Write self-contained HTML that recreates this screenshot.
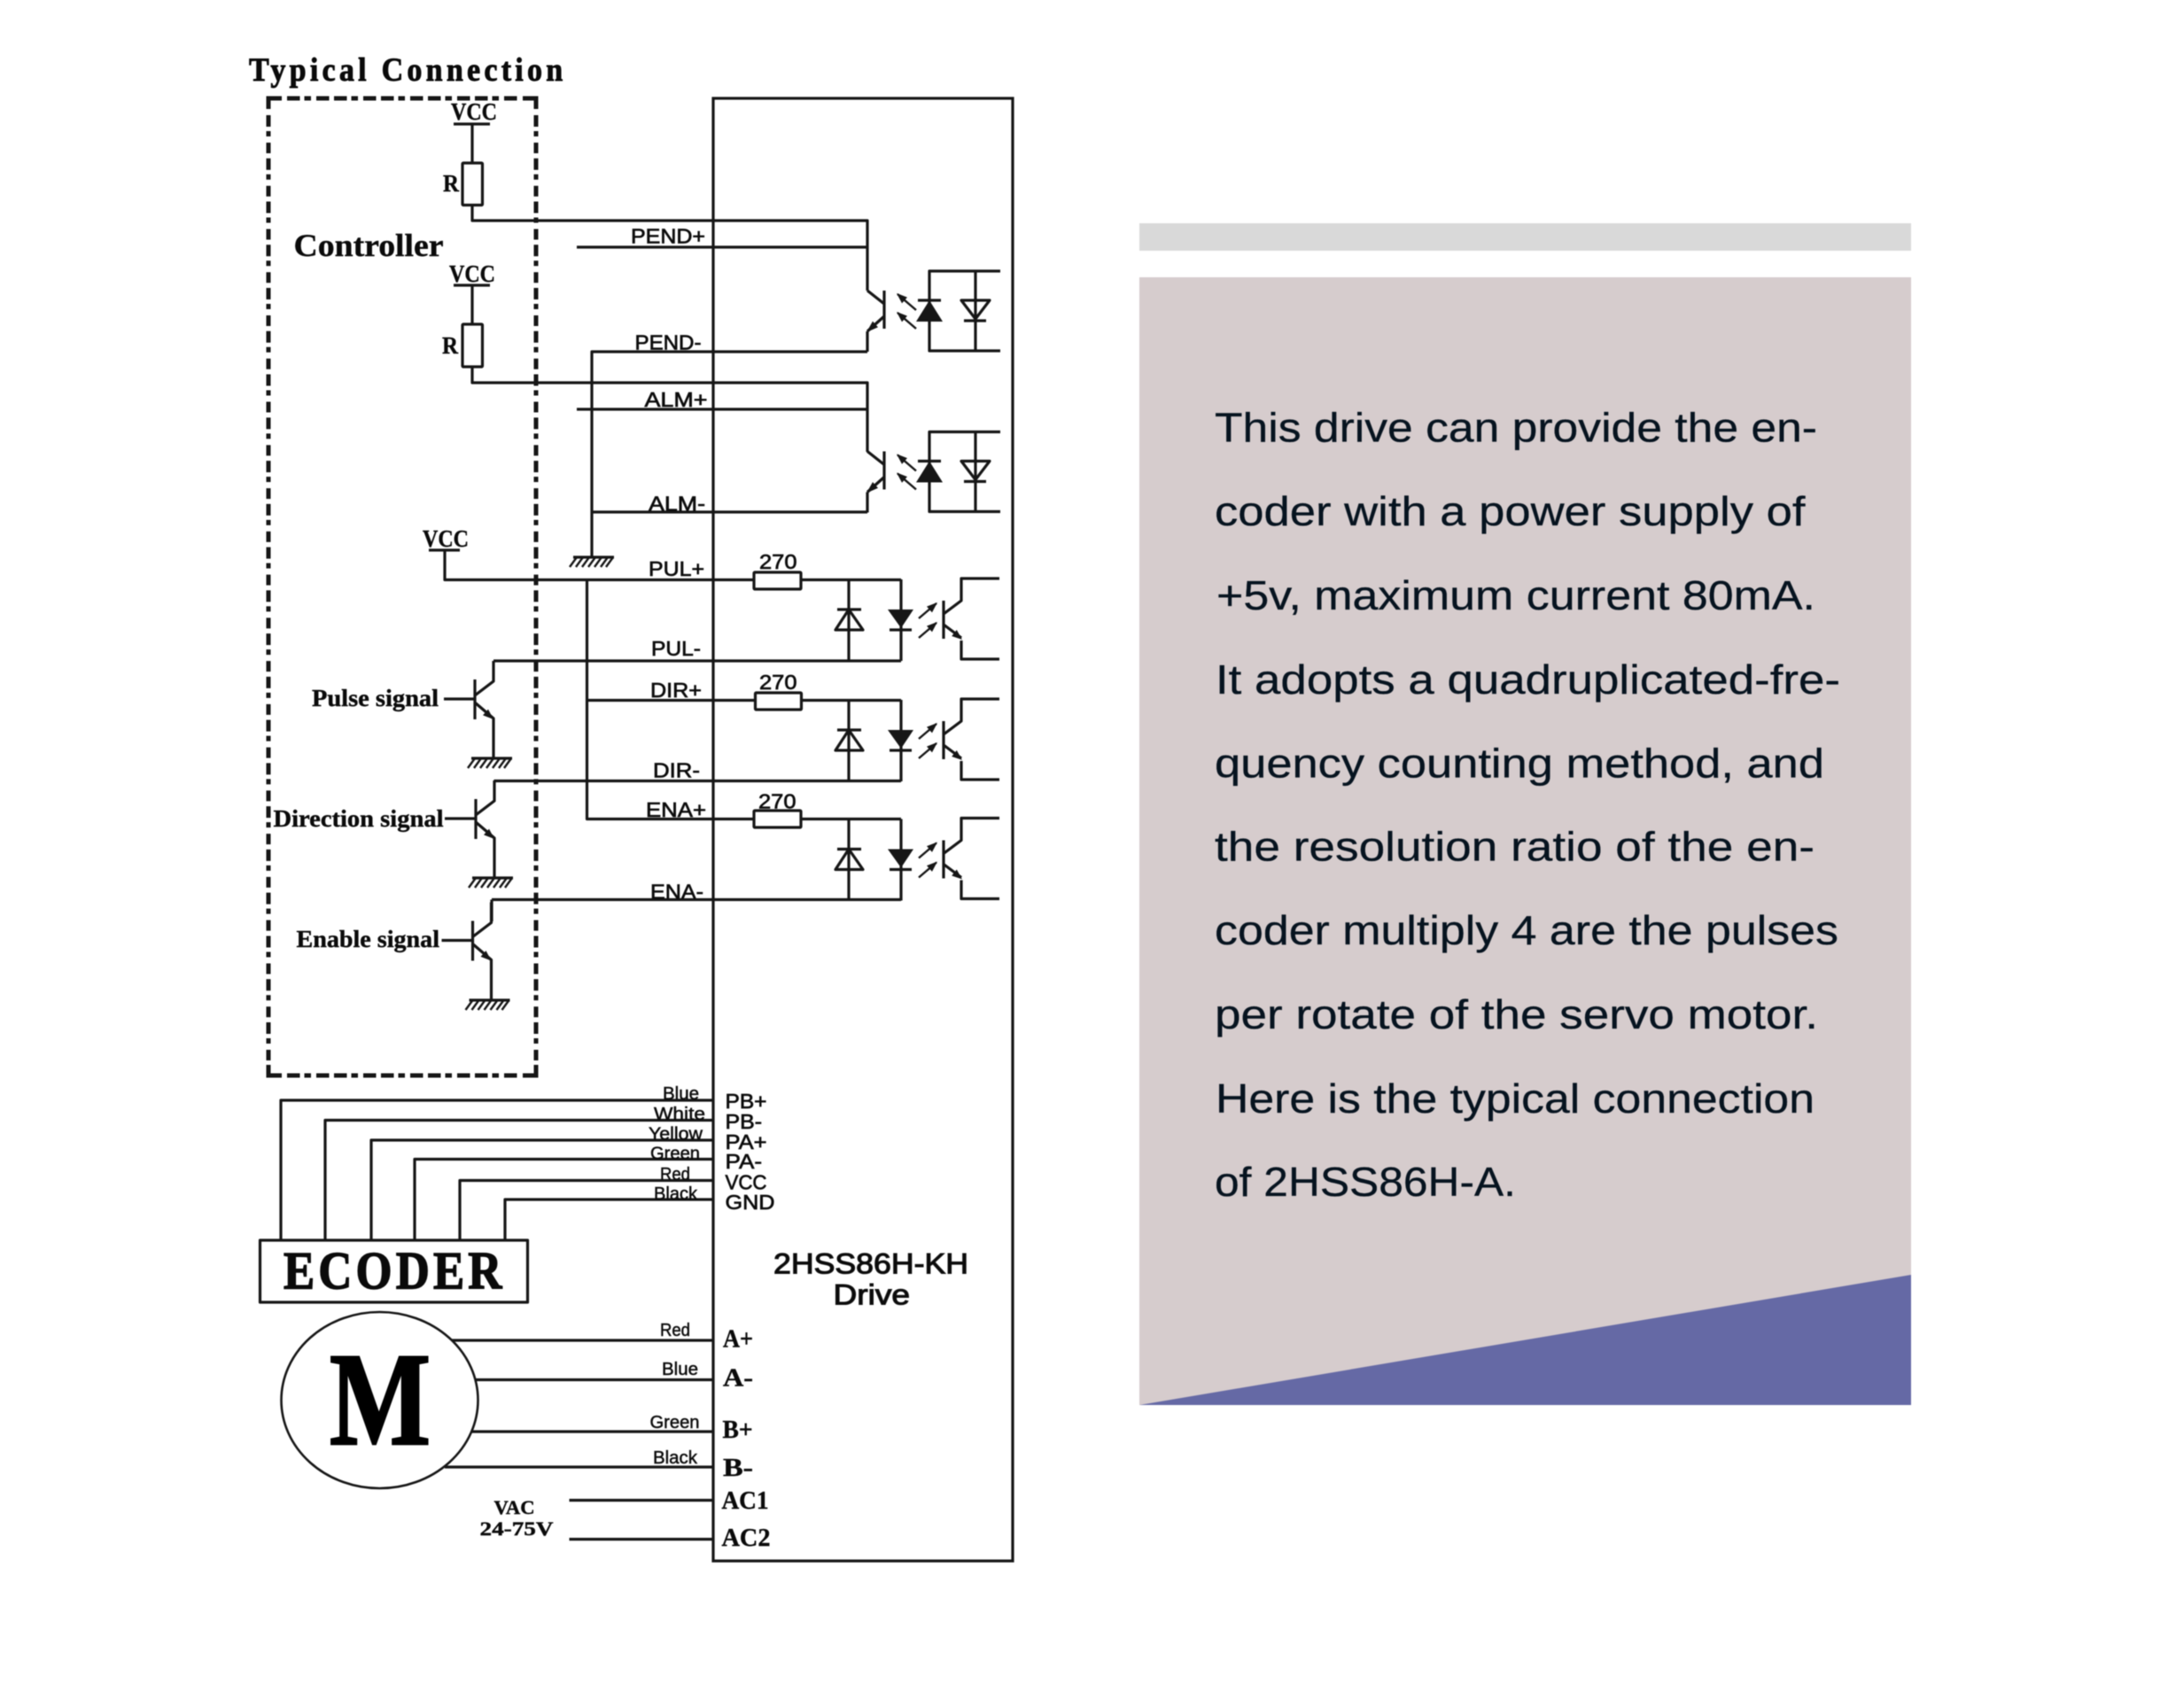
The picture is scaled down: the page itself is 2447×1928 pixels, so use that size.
<!DOCTYPE html>
<html><head><meta charset="utf-8"><title>Typical Connection</title>
<style>
html,body{margin:0;padding:0;background:#fff;width:2447px;height:1928px;overflow:hidden}
svg{display:block;filter:blur(.55px)}
.w{fill:none;stroke:#161616;stroke-width:3.2;stroke-linejoin:round}
.t{fill:none;stroke:#161616;stroke-width:2.4}
.f{fill:#161616}
.d{fill:none;stroke:#161616;stroke-width:5}
text{fill:#0a0a0a}
.s{font-family:"Liberation Serif",serif;font-weight:bold;stroke:#0a0a0a;stroke-width:.4}
.l{transform:translateY(1px)}
.a{font-family:"Liberation Sans",sans-serif;font-size:23.5px;stroke:#111;stroke-width:.7;transform:translateY(1px)}
.c{font-family:"Liberation Sans",sans-serif;font-size:20px;stroke:#111;stroke-width:.5;transform:translateY(1px)}
.p{font-family:"Liberation Sans",sans-serif;font-size:46.5px;fill:#06131f;stroke:#06131f;stroke-width:.3;transform:translate(-1px,.7px)}
</style></head><body>
<svg width="2447" height="1928" viewBox="0 0 2447 1928" xmlns="http://www.w3.org/2000/svg">
<defs>
<g id="gnd">
<path class="w" d="M-23 0H23"/>
<path class="t" d="M-19 0l-8 11M-12 0l-8 11M-5 0l-8 11M2 0l-8 11M9 0l-8 11M16 0l-8 11M22 0l-8 11"/>
</g>
<g id="optoA">
<path class="w" d="M979 328L998 343M998 328V371M998 357L979 374M979 374V397"/>
<path class="f" d="M978 375l13-5.600-6-6.800z"/>
<path class="t" d="M1034 350L1013 332M1034 371L1013 353"/>
<path class="f" d="M1012 331l6 11.400 6-6.800zM1012 352l6 11.400 6-6.800z"/>
<path class="w" d="M1129 306H1049V396H1129M1036 339H1062M1101 306V396M1085 339H1117L1101 360ZM1088 362H1113"/>
<path class="f" d="M1049 339L1064 363H1034Z"/>
</g>
<g id="optoB">
<path class="w" d="M958 654V746M1017 654V746M945 688H972M958 688L974 711H943ZM1004 711H1029"/>
<path class="f" d="M1002 688H1031L1017 709Z"/>
<path class="t" d="M1037 698L1057 681M1037 720L1057 703"/>
<path class="f" d="M1058 680l-6 11.400-6-6.800zM1058 702l-6 11.400-6-6.800z"/>
<path class="w" d="M1065 678V721M1065 693L1085 678V653H1128M1065 705L1085 720M1085 723V744H1128"/>
<path class="f" d="M1086 722l-6.200-11-5.600 7z"/>
</g>
<g id="ctl">
<path class="w" d="M557 746V769L536 785M536 767V812M501 789H536M536 793L557 811V856"/>
<path class="f" d="M557 812l-6-11.400-6 6.800z"/>
</g>
</defs>
<rect width="2447" height="1928" fill="#fff"/>

<!-- Title -->
<text class="s" transform="translate(281,91) scale(.92,1)" font-size="37" textLength="385" lengthAdjust="spacing" style="stroke-width:.9">Typical Connection</text>

<!-- Controller dashed box -->
<path class="d" d="M303 123V111H318M590 111H605V123M303 1202V1214H318M590 1214H605V1202"/>
<path class="d" stroke-dasharray="14.500 5 7.500 6 14.500 5.500" d="M324 111H585"/>
<path class="d" stroke-dasharray="14.500 5 7.500 6 14.500 5.500" d="M324 1214H585"/>
<path class="d" stroke-dasharray="13 5 6 7 12 5.760" d="M303 130V1197"/>
<path class="d" stroke-dasharray="13 5 6 7 12 5.760" d="M605 130V1197"/>
<!-- Drive box -->
<rect x="805" y="111" width="338" height="1651" fill="none" stroke="#161616" stroke-width="3.200"/>

<text class="s l" x="331.5" y="288" font-size="36" textLength="169" lengthAdjust="spacingAndGlyphs">Controller</text>

<!-- VCC 1 -->
<text class="s" x="509" y="135" font-size="27" textLength="52" lengthAdjust="spacingAndGlyphs">VCC</text>
<path class="w" d="M512 140H553M533 140V184M533 231.5V249H979V328M651 279H979"/>
<rect class="w" x="522" y="184" width="22.5" height="47.5" rx="1"/>
<text class="s" x="500" y="216" font-size="27" textLength="18" lengthAdjust="spacingAndGlyphs">R</text>
<use href="#optoA"/>
<path class="w" d="M979 397H668V629"/>

<!-- VCC 2 -->
<text class="s" x="507" y="318" font-size="27" textLength="52" lengthAdjust="spacingAndGlyphs">VCC</text>
<path class="w" d="M512 322H553M533 322V366M533 414V432H979V510M651 462H979"/>
<rect class="w" x="522" y="366" width="22.5" height="48" rx="1"/>
<text class="s" x="499" y="399" font-size="27" textLength="18" lengthAdjust="spacingAndGlyphs">R</text>
<use href="#optoA" transform="translate(0,181.5)"/>
<path class="w" d="M979 578H668"/>
<use href="#gnd" transform="translate(670,629)"/>

<!-- VCC 3 + inputs -->
<text class="s l" x="477" y="616" font-size="27" textLength="52" lengthAdjust="spacingAndGlyphs">VCC</text>
<path class="w" d="M484 621H519M502 621V654.5H851M904 654.5H1017"/>
<rect class="w" x="851" y="646" width="53" height="19" rx="1"/>
<use href="#optoB"/>
<path class="w" d="M557 746H1017"/>
<path class="w" d="M662.5 654.5V924.5H851M662.5 790.5H852.5M904 790.5H1017M904 924.5H1017"/>
<rect class="w" x="852.5" y="782" width="52" height="19" rx="1"/>
<rect class="w" x="851" y="915" width="53" height="19" rx="1"/>
<use href="#optoB" transform="translate(0,136)"/>
<path class="w" d="M557.5 881.5H1017"/>
<use href="#optoB" transform="translate(0,270.5)"/>
<path class="w" d="M555 1015.5H1017"/>

<use href="#ctl"/>
<use href="#gnd" transform="translate(555,856)"/>
<use href="#ctl" transform="translate(1,135)"/>
<use href="#gnd" transform="translate(556,991)"/>
<path class="w" d="M555 1015.5V1040"/>
<use href="#ctl" transform="translate(-2.5,272.5)"/>
<use href="#gnd" transform="translate(552.5,1129)"/>

<text class="s l" x="352" y="796" font-size="27" textLength="143" lengthAdjust="spacingAndGlyphs">Pulse signal</text>
<text class="s l" x="308.5" y="932" font-size="27" textLength="192" lengthAdjust="spacingAndGlyphs">Direction signal</text>
<text class="s l" x="334.5" y="1068" font-size="27" textLength="161.5" lengthAdjust="spacingAndGlyphs">Enable signal</text>

<!-- Signal labels -->
<text class="a" x="712" y="273.5" textLength="84" lengthAdjust="spacingAndGlyphs">PEND+</text>
<text class="a" x="716.5" y="393.5" textLength="75" lengthAdjust="spacingAndGlyphs">PEND-</text>
<text class="a" x="727.5" y="458" textLength="71" lengthAdjust="spacingAndGlyphs">ALM+</text>
<text class="a" x="732" y="575.5" textLength="64" lengthAdjust="spacingAndGlyphs">ALM-</text>
<text class="a" x="732" y="649" textLength="63" lengthAdjust="spacingAndGlyphs">PUL+</text>
<text class="a" x="735" y="739" textLength="56" lengthAdjust="spacingAndGlyphs">PUL-</text>
<text class="a" x="734" y="786" textLength="58" lengthAdjust="spacingAndGlyphs">DIR+</text>
<text class="a" x="737" y="876.5" textLength="53" lengthAdjust="spacingAndGlyphs">DIR-</text>
<text class="a" x="729" y="921" textLength="68" lengthAdjust="spacingAndGlyphs">ENA+</text>
<text class="a" x="734" y="1013.5" textLength="60" lengthAdjust="spacingAndGlyphs">ENA-</text>
<text class="a" x="857" y="641" textLength="42.5" lengthAdjust="spacingAndGlyphs">270</text>
<text class="a" x="857" y="777" textLength="42.5" lengthAdjust="spacingAndGlyphs">270</text>
<text class="a" x="856" y="911.5" textLength="42.5" lengthAdjust="spacingAndGlyphs">270</text>

<!-- Encoder -->
<path class="w" d="M317 1400V1242H804M367 1400V1264.5H804M419 1400V1287H804M468 1400V1308.5H804M519 1400V1332.5H804M570 1400V1354H804"/>
<rect class="w" x="293.5" y="1400" width="302" height="70"/>
<text class="s" transform="translate(320,1454.5) scale(.88,1)" font-size="60" textLength="280" lengthAdjust="spacing" style="stroke-width:1.4">ECODER</text>
<text class="c" x="748" y="1240" textLength="41" lengthAdjust="spacingAndGlyphs">Blue</text>
<text class="c" x="738" y="1263" textLength="58" lengthAdjust="spacingAndGlyphs">White</text>
<text class="c" x="732" y="1285.5" textLength="61" lengthAdjust="spacingAndGlyphs">Yellow</text>
<text class="c" x="734" y="1307.5" textLength="56" lengthAdjust="spacingAndGlyphs">Green</text>
<text class="c" x="745" y="1331" textLength="34" lengthAdjust="spacingAndGlyphs">Red</text>
<text class="c" x="738" y="1353" textLength="49" lengthAdjust="spacingAndGlyphs">Black</text>
<text class="a" x="818.5" y="1250" textLength="47" lengthAdjust="spacingAndGlyphs">PB+</text>
<text class="a" x="818.5" y="1273" textLength="41.5" lengthAdjust="spacingAndGlyphs">PB-</text>
<text class="a" x="818.5" y="1296" textLength="47" lengthAdjust="spacingAndGlyphs">PA+</text>
<text class="a" x="818.5" y="1318" textLength="41.5" lengthAdjust="spacingAndGlyphs">PA-</text>
<text class="a" x="818.5" y="1341.5" textLength="47" lengthAdjust="spacingAndGlyphs">VCC</text>
<text class="a" x="818.5" y="1364" textLength="56" lengthAdjust="spacingAndGlyphs">GND</text>

<text class="a" x="873" y="1436.5" style="font-size:32px;stroke-width:1.100" textLength="220" lengthAdjust="spacingAndGlyphs">2HSS86H-KH</text>
<text class="a" x="940.5" y="1471.5" style="font-size:32px;stroke-width:1.100" textLength="86.500" lengthAdjust="spacingAndGlyphs">Drive</text>

<!-- Motor -->
<path class="w" d="M509 1513H804M536 1557.5H804M533 1616H804M502 1656H804M642.5 1693.5H804M642.5 1737.5H804"/>
<ellipse class="w" cx="428.500" cy="1580.5" rx="111" ry="99.5" style="fill:#fff;stroke-width:2.600"/>
<text class="s" x="372" y="1630" font-size="150" textLength="114" lengthAdjust="spacingAndGlyphs" style="fill:#000;stroke:#000;stroke-width:2.500">M</text>
<text class="c" x="745" y="1507" textLength="34" lengthAdjust="spacingAndGlyphs">Red</text>
<text class="c" x="747" y="1551" textLength="41" lengthAdjust="spacingAndGlyphs">Blue</text>
<text class="c" x="733.5" y="1611" textLength="56" lengthAdjust="spacingAndGlyphs">Green</text>
<text class="c" x="737" y="1651" textLength="50" lengthAdjust="spacingAndGlyphs">Black</text>
<text class="s l" x="816" y="1519.5" font-size="28" textLength="34" lengthAdjust="spacingAndGlyphs">A+</text>
<text class="s l" x="816" y="1563.5" font-size="28" textLength="34" lengthAdjust="spacingAndGlyphs">A-</text>
<text class="s l" x="815.5" y="1622" font-size="28" textLength="34" lengthAdjust="spacingAndGlyphs">B+</text>
<text class="s l" x="816" y="1665" font-size="28" textLength="34" lengthAdjust="spacingAndGlyphs">B-</text>
<text class="s l" x="814.5" y="1702" font-size="28" textLength="53" lengthAdjust="spacingAndGlyphs">AC1</text>
<text class="s l" x="814.5" y="1744" font-size="28" textLength="55" lengthAdjust="spacingAndGlyphs">AC2</text>
<text class="s l" x="557.5" y="1708" font-size="22" textLength="46" lengthAdjust="spacingAndGlyphs">VAC</text>
<text class="s l" x="541.5" y="1732" font-size="22" textLength="83" lengthAdjust="spacingAndGlyphs">24-75V</text>

<!-- Right panel -->
<rect x="1286" y="252" width="871" height="31" fill="#d9d9d9"/>
<rect x="1286" y="313" width="871" height="1273" fill="#d6cccd"/>
<polygon points="1286,1586 2157,1439 2157,1586" fill="#6569a5"/>
<text class="p" x="1372" y="498" textLength="680" lengthAdjust="spacingAndGlyphs">This drive can provide the en-</text>
<text class="p" x="1372" y="592.5" textLength="666.5" lengthAdjust="spacingAndGlyphs">coder with a power supply of</text>
<text class="p" x="1374" y="687.5" textLength="676" lengthAdjust="spacingAndGlyphs">+5v, maximum current 80mA.</text>
<text class="p" x="1373" y="782.5" textLength="705" lengthAdjust="spacingAndGlyphs">It adopts a quadruplicated-fre-</text>
<text class="p" x="1372" y="877" textLength="688" lengthAdjust="spacingAndGlyphs">quency counting method, and</text>
<text class="p" x="1372" y="971" textLength="677" lengthAdjust="spacingAndGlyphs">the resolution ratio of the en-</text>
<text class="p" x="1372" y="1065.5" textLength="704" lengthAdjust="spacingAndGlyphs">coder multiply 4 are the pulses</text>
<text class="p" x="1372" y="1160.5" textLength="681" lengthAdjust="spacingAndGlyphs">per rotate of the servo motor.</text>
<text class="p" x="1373" y="1255.5" textLength="676" lengthAdjust="spacingAndGlyphs">Here is the typical connection</text>
<text class="p" x="1372" y="1349.5" textLength="340" lengthAdjust="spacingAndGlyphs">of 2HSS86H-A.</text>
</svg>
</body></html>
